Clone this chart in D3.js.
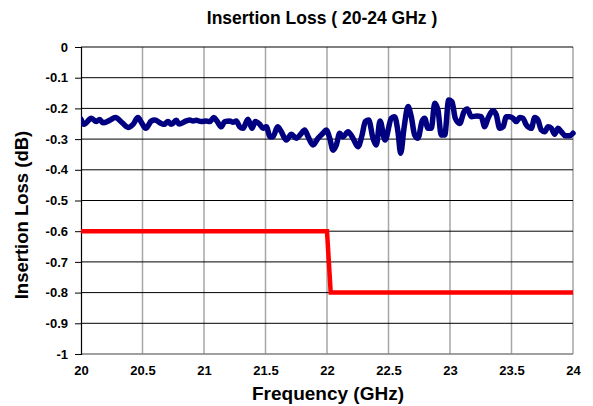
<!DOCTYPE html>
<html>
<head>
<meta charset="utf-8">
<script src="https://cdn.jsdelivr.net/npm/d3@7"></script>
<style>
  body { margin: 0; background: #fff; }
  text { font-family: "Liberation Sans", Arial, sans-serif; font-weight: bold; fill: #000; }
</style>
</head>
<body>
<svg id="chart"></svg>
<script>
const freqTicks = [20, 20.5, 21, 21.5, 22, 22.5, 23, 23.5, 24];
const freqTickLabels = ['20', '20.5', '21', '21.5', '22', '22.5', '23', '23.5', '24'];
const lossTicks = [0, -0.1, -0.2, -0.3, -0.4, -0.5, -0.6, -0.7, -0.8, -0.9, -1];
const lossTickLabels = ['0', '-0.1', '-0.2', '-0.3', '-0.4', '-0.5', '-0.6', '-0.7', '-0.8', '-0.9', '-1'];

// measured insertion loss (GHz, dB)
const measFreq = [
  20.000, 20.024, 20.084, 20.124, 20.152, 20.179, 20.233, 20.279, 20.341, 20.382,
  20.423, 20.463, 20.496, 20.526, 20.572, 20.599, 20.653, 20.675, 20.707, 20.734,
  20.775, 20.797, 20.856, 20.884, 20.911, 20.937, 20.978, 21.019, 21.046, 21.081,
  21.108, 21.141, 21.168, 21.209, 21.236, 21.263, 21.290, 21.317, 21.358, 21.390,
  21.417, 21.453, 21.480, 21.507, 21.537, 21.561, 21.598, 21.626, 21.669, 21.710,
  21.750, 21.786, 21.819, 21.846, 21.886, 21.927, 21.967, 21.994, 22.022, 22.049,
  22.076, 22.103, 22.130, 22.171, 22.211, 22.252, 22.285, 22.311, 22.339, 22.374,
  22.401, 22.431, 22.472, 22.523, 22.550, 22.577, 22.599, 22.626, 22.659, 22.685,
  22.713, 22.740, 22.772, 22.794, 22.821, 22.848, 22.876, 22.902, 22.929, 22.957,
  22.989, 23.016, 23.043, 23.079, 23.114, 23.141, 23.173, 23.220, 23.254, 23.282,
  23.309, 23.350, 23.376, 23.404, 23.431, 23.458, 23.485, 23.512, 23.539, 23.567,
  23.593, 23.620, 23.661, 23.689, 23.715, 23.742, 23.770, 23.797, 23.824, 23.851,
  23.878, 23.905, 23.937, 23.973, 24.000
];
const measLoss = [
  -0.235, -0.252, -0.232, -0.243, -0.236, -0.247, -0.239, -0.230, -0.249, -0.262,
  -0.252, -0.230, -0.249, -0.265, -0.241, -0.238, -0.249, -0.252, -0.243, -0.252,
  -0.239, -0.251, -0.241, -0.238, -0.241, -0.239, -0.243, -0.241, -0.243, -0.230,
  -0.243, -0.260, -0.243, -0.241, -0.245, -0.241, -0.260, -0.265, -0.235, -0.265,
  -0.243, -0.252, -0.265, -0.260, -0.292, -0.292, -0.260, -0.274, -0.303, -0.284,
  -0.297, -0.284, -0.270, -0.292, -0.319, -0.297, -0.281, -0.270, -0.297, -0.336,
  -0.319, -0.281, -0.292, -0.276, -0.297, -0.325, -0.287, -0.243, -0.238, -0.297,
  -0.319, -0.241, -0.303, -0.232, -0.227, -0.276, -0.346, -0.265, -0.194, -0.227,
  -0.287, -0.297, -0.243, -0.232, -0.265, -0.265, -0.183, -0.205, -0.287, -0.287,
  -0.173, -0.178, -0.232, -0.249, -0.211, -0.202, -0.227, -0.225, -0.227, -0.260,
  -0.232, -0.208, -0.221, -0.265, -0.260, -0.227, -0.227, -0.232, -0.243, -0.230,
  -0.232, -0.254, -0.265, -0.230, -0.238, -0.270, -0.276, -0.260, -0.265, -0.284,
  -0.265, -0.276, -0.289, -0.289, -0.281
];

// specification limit
const specFreq = [20, 22, 22.03, 24];
const specLoss = [-0.6, -0.6, -0.8, -0.8];

const width = 593, height = 406;
const margin = { top: 47, right: 20, bottom: 52, left: 81 };

const svg = d3.select('#chart').attr('width', width).attr('height', height);

const xScale = d3.scaleLinear().domain([20, 24]).range([margin.left, width - margin.right]);
const yScale = d3.scaleLinear().domain([-1, 0]).range([height - margin.bottom, margin.top]);

// vertical grid
svg.append('g')
  .selectAll('line')
  .data(freqTicks.slice(1))
  .join('line')
  .attr('x1', d => xScale(d)).attr('x2', d => xScale(d))
  .attr('y1', yScale(0)).attr('y2', yScale(-1))
  .attr('stroke', '#a6a6a6')
  .attr('stroke-width', 1.5);

// horizontal grid
svg.append('g')
  .selectAll('line')
  .data(lossTicks.slice(0, -1))
  .join('line')
  .attr('x1', xScale(20)).attr('x2', xScale(24))
  .attr('y1', d => yScale(d)).attr('y2', d => yScale(d))
  .attr('stroke', '#000')
  .attr('stroke-width', 1);

// bottom axis line
svg.append('line')
  .attr('x1', xScale(20)).attr('x2', xScale(24))
  .attr('y1', yScale(-1)).attr('y2', yScale(-1))
  .attr('stroke', '#808080').attr('stroke-width', 1.5);

// y axis
const yAxis = svg.append('g')
  .attr('transform', `translate(${margin.left},0)`)
  .call(d3.axisLeft(yScale)
    .tickValues(lossTicks)
    .tickFormat((d, i) => lossTickLabels[i])
    .tickSize(6)
    .tickPadding(7));
yAxis.select('.domain').attr('stroke', '#000').attr('stroke-width', 1.2);
yAxis.selectAll('.tick line').attr('stroke', '#000');
yAxis.selectAll('text').attr('font-size', 13).style('font-family', '"Liberation Sans", Arial, sans-serif').style('font-weight', 'bold');

// x axis labels
const xAxis = svg.append('g')
  .attr('transform', `translate(0,${height - margin.bottom})`)
  .call(d3.axisBottom(xScale)
    .tickValues(freqTicks)
    .tickFormat((d, i) => freqTickLabels[i])
    .tickSize(0)
    .tickPadding(12));
xAxis.select('.domain').remove();
xAxis.selectAll('text').attr('font-size', 13).style('font-family', '"Liberation Sans", Arial, sans-serif').style('font-weight', 'bold');

svg.append('defs').append('clipPath').attr('id', 'plot-clip')
  .append('rect')
  .attr('x', xScale(20)).attr('y', yScale(0) - 5)
  .attr('width', xScale(24) - xScale(20) + 3)
  .attr('height', yScale(-1) - yScale(0) + 10);

const specData = specFreq.map((f, i) => ({ f, v: specLoss[i] }));
const measData = measFreq.map((f, i) => ({ f, v: measLoss[i] }));

svg.append('path')
  .datum(specData)
  .attr('clip-path', 'url(#plot-clip)')
  .attr('fill', 'none')
  .attr('stroke', '#ff0000')
  .attr('stroke-width', 4.5)
  .attr('d', d3.line().x(d => xScale(d.f)).y(d => yScale(d.v)));

svg.append('path')
  .datum(measData)
  .attr('clip-path', 'url(#plot-clip)')
  .attr('fill', 'none')
  .attr('stroke', '#000080')
  .attr('stroke-width', 5.5)
  .attr('stroke-linejoin', 'round')
  .attr('stroke-linecap', 'round')
  .attr('d', d3.line().curve(d3.curveMonotoneX).x(d => xScale(d.f)).y(d => yScale(d.v)));

// titles
svg.append('text')
  .attr('x', 322).attr('y', 24)
  .attr('text-anchor', 'middle')
  .attr('font-size', 17.5)
  .text('Insertion Loss ( 20-24 GHz )');

svg.append('text')
  .attr('x', 328).attr('y', 400)
  .attr('text-anchor', 'middle')
  .attr('font-size', 19)
  .text('Frequency (GHz)');

svg.append('text')
  .attr('transform', 'translate(28,215) rotate(-90)')
  .attr('text-anchor', 'middle')
  .attr('font-size', 18.5)
  .text('Insertion Loss (dB)');
</script>
</body>
</html>
